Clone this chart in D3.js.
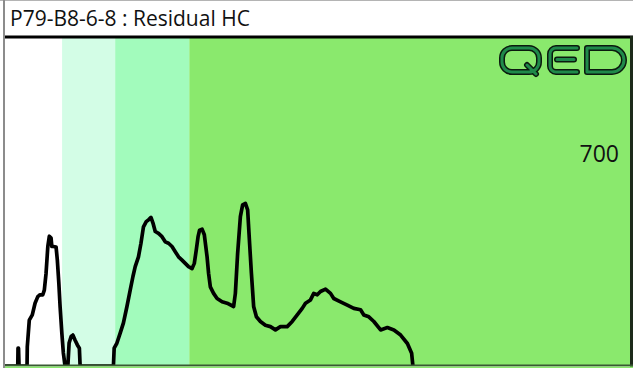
<!DOCTYPE html>
<html>
<head>
<meta charset="utf-8">
<script src="https://cdn.jsdelivr.net/npm/d3@7"></script>
<style>
  html, body { margin: 0; padding: 0; background: #fff; }
  svg { display: block; }
</style>
</head>
<body>
<svg id="chart" width="633" height="368"></svg>
<script>
// Sample and run settings
const sampleName = "P79-B8-6-8 : Residual HC";
const scaleLabel = "700";

// Run time (min) and detector full scale
const timeRange = [0, 25];
const intensityRange = [0, 700];

// Hydrocarbon range bands (start/end in minutes)
const bandStarts = [2.28, 4.40, 7.36];
const bandEnds   = [4.40, 7.36, 25];
const bandColors = ["#d3fde6", "#a2fbbc", "#8ae96d"];

// Chromatogram trace
const times = [0, 0.48, 0.51, 0.52, 0.54, 0.56, 0.88, 0.89, 0.97, 1.09, 1.20, 1.31, 1.40, 1.51, 1.57, 1.64, 1.71, 1.77, 1.84, 1.87, 1.93, 2.04, 2.09, 2.15, 2.20, 2.27, 2.33, 2.40,
  2.51, 2.56, 2.64, 2.71, 2.80, 2.89, 2.97, 3.00,
  4.33, 4.36, 4.47, 4.60, 4.73, 4.87, 5.00, 5.11, 5.20, 5.33, 5.43, 5.53, 5.64, 5.73, 5.83, 5.91, 6.00, 6.13, 6.27, 6.40, 6.53, 6.67, 6.80, 6.93, 7.07, 7.20, 7.33, 7.47,
  7.56, 7.64, 7.71, 7.77, 7.87, 7.96, 8.07, 8.13, 8.20, 8.33, 8.47, 8.67, 8.87, 9.13,
  9.20, 9.29, 9.40, 9.49, 9.60, 9.69, 9.76, 9.84, 9.93, 10.04, 10.20, 10.40, 10.60, 10.80, 11.00, 11.27, 11.47, 11.67, 11.87, 12.00, 12.20, 12.33, 12.47, 12.60, 12.80,
  13.00, 13.13, 13.40, 13.67, 13.93, 14.20, 14.33, 14.53, 14.73, 15.00, 15.27, 15.53, 15.80, 16.07, 16.24, 16.29];
const signal = [0, 0, 0, 38, 38, 0, 0, 41, 98, 109, 134, 148, 152, 152, 162, 198, 255, 277, 273, 255, 255, 254, 226, 177, 127, 70, 28, 0,
  0, 49, 63, 66, 55, 45, 38, 0,
  0, 38, 49, 70, 92, 127, 162, 191, 212, 233, 262, 297, 308, 312, 317, 305, 287, 283, 276, 265, 262, 255, 244, 233, 226, 219, 212, 208,
  219, 248, 276, 290, 292, 280, 233, 198, 169, 155, 144, 137, 134, 127,
  155, 240, 319, 344, 347, 333, 269, 198, 127, 105, 95, 87, 84, 77, 84, 84, 95, 109, 123, 134, 141, 155, 152, 159, 164,
  155, 144, 137, 130, 123, 120, 109, 105, 95, 77, 82, 77, 66, 48, 27, 0];

const svg = d3.select("#chart");
const W = 633, H = 368;
const plot = { left: 5, top: 38, right: 631, bottom: 366 };

// Outer frame
svg.append("rect").attr("x", 0).attr("y", 0).attr("width", W).attr("height", H).attr("fill", "#fff");
svg.append("line").attr("x1", 0).attr("x2", W).attr("y1", 0.5).attr("y2", 0.5)
  .attr("stroke", "#b4b4b4").attr("stroke-width", 1);
svg.append("rect").attr("x", 3).attr("y", 0).attr("width", 2).attr("height", H).attr("fill", "#8c8c8c");

// Title
svg.append("text")
  .attr("x", 10).attr("y", 26)
  .attr("font-family", "'Open Sans', 'Noto Sans', sans-serif")
  .attr("font-size", 21)
  .attr("fill", "#111")
  .text(sampleName);

const x = d3.scaleLinear().domain(timeRange).range([plot.left, plot.right]);
const y = d3.scaleLinear().domain(intensityRange).range([plot.bottom, plot.top]);

const g = svg.append("g");
svg.append("clipPath").attr("id", "plotclip")
  .append("rect").attr("x", plot.left).attr("y", plot.top)
  .attr("width", plot.right - plot.left).attr("height", plot.bottom - plot.top);

// Range bands
g.selectAll("rect.band")
  .data(bandStarts.map((s, i) => ({ s, e: bandEnds[i], c: bandColors[i] })))
  .join("rect")
  .attr("class", "band")
  .attr("x", d => x(d.s))
  .attr("y", plot.top)
  .attr("width", d => x(d.e) - x(d.s))
  .attr("height", plot.bottom - plot.top)
  .attr("fill", d => d.c);

// Trace
const pts = times.map((t, i) => [t, signal[i]]);
const line = d3.line().x(d => x(d[0])).y(d => y(d[1]));
g.append("path")
  .attr("d", line(pts))
  .attr("clip-path", "url(#plotclip)")
  .attr("fill", "none")
  .attr("stroke", "#000")
  .attr("stroke-width", 3.7)
  .attr("stroke-linejoin", "round")
  .attr("stroke-linecap", "round");

// Plot borders
svg.append("rect").attr("x", plot.left).attr("y", 35.5).attr("width", W - plot.left).attr("height", 3).attr("fill", "#000");
svg.append("rect").attr("x", 630).attr("y", 36).attr("width", 3).attr("height", H - 36).attr("fill", "#1d2a1a");
svg.append("rect").attr("x", plot.left).attr("y", 364.5).attr("width", W - plot.left).attr("height", 2).attr("fill", "#3a5a34");
svg.append("rect").attr("x", plot.left).attr("y", 366.5).attr("width", W - plot.left).attr("height", 1.5).attr("fill", "#8ae96d");

// Scale label
svg.append("text")
  .attr("x", 619).attr("y", 162)
  .attr("text-anchor", "end")
  .attr("font-family", "'Open Sans', 'Noto Sans', sans-serif")
  .attr("font-size", 23)
  .attr("fill", "#111")
  .text(scaleLabel);

// Brand mark: outlined rounded letters Q, E, D
const logo = svg.append("g").attr("fill", "none").attr("stroke-linecap", "round").attr("stroke-linejoin", "round");
const q = d3.path();
q.moveTo(513, 48); q.lineTo(528, 48); q.arcTo(539, 48, 539, 58, 10); q.lineTo(539, 62);
q.arcTo(539, 72, 528, 72, 10); q.lineTo(513, 72); q.arcTo(502, 72, 502, 62, 10);
q.lineTo(502, 58); q.arcTo(502, 48, 513, 48, 10); q.closePath();
q.moveTo(527, 65); q.lineTo(536, 74);
const e = d3.path();
e.moveTo(577, 48); e.lineTo(556, 48); e.arcTo(550, 48, 550, 54, 6); e.lineTo(550, 66);
e.arcTo(550, 72, 556, 72, 6); e.lineTo(577, 72);
e.moveTo(557, 59.5); e.lineTo(574, 59.5);
const dd = d3.path();
dd.moveTo(587, 48); dd.lineTo(612, 48); dd.arcTo(624, 48, 624, 60, 12);
dd.arcTo(624, 72, 612, 72, 12); dd.lineTo(587, 72); dd.closePath();
const logoPaths = [q.toString(), e.toString(), dd.toString()];
logo.selectAll("path.outer").data(logoPaths).join("path").attr("class", "outer")
  .attr("d", d => d).attr("stroke", "#0b1a0e").attr("stroke-width", 6);
logo.selectAll("path.inner").data(logoPaths).join("path").attr("class", "inner")
  .attr("d", d => d).attr("stroke", "#1f8a4a").attr("stroke-width", 3);
</script>
</body>
</html>
